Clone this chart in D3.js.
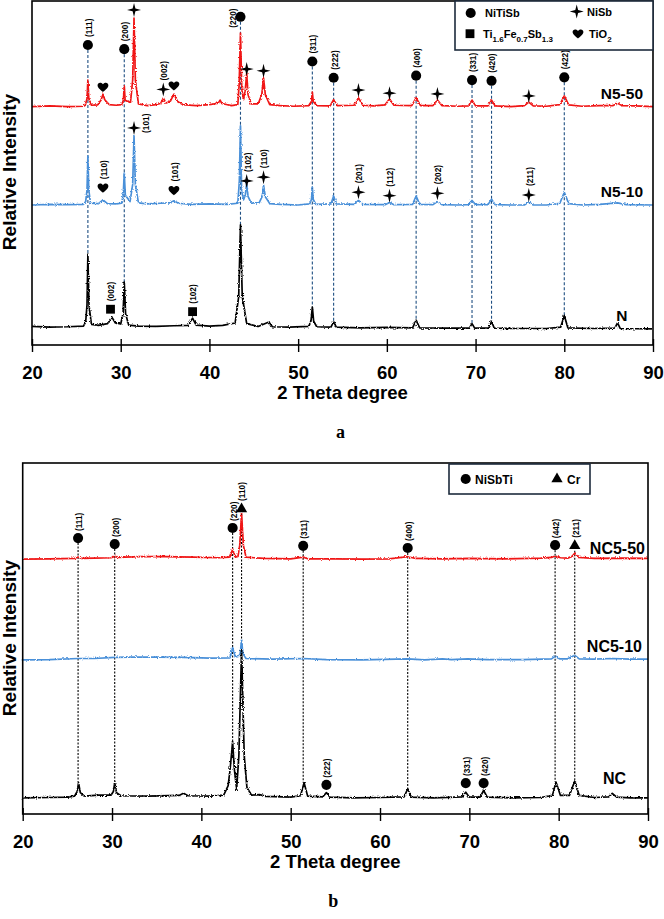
<!DOCTYPE html>
<html>
<head>
<meta charset="utf-8">
<script src="https://cdn.jsdelivr.net/npm/d3@7"></script>
<style>
  body { margin: 0; background: #fff; }
  svg { display: block; }
  text { font-family: "Liberation Sans", Arial, sans-serif; font-weight: bold; fill: #000; }
</style>
</head>
<body>
<svg id="chart" width="664" height="919"></svg>
<script>
const thetaTicks = [20, 30, 40, 50, 60, 70, 80, 90];

// panel a : [2theta, intensity above own baseline]
const n550 = [[20,0],[22,0.2],[24,0],[25.8,0.1],[26.0,0.4],[26.2,2.3],[26.3,7.7],[26.4,2.3],[26.7,0.4],
  [27.4,0.5],[27.8,2.0],[28.0,3.6],[28.2,2.0],[28.7,0.6],[29.5,0.4],[30.1,0.6],[30.3,1.8],[30.4,6.0],[30.5,1.8],
  [31.1,1.2],[31.35,7.7],[31.5,25.7],[31.65,7.7],[32.0,0.8],[33.0,0.3],[34.0,0.6],[34.5,0.9],[34.8,2.5],[35.1,1.0],
  [35.6,1.6],[36.0,3.6],[36.4,1.5],[37.0,0.6],[38.5,0.3],[40.0,0.6],[41.0,1.0],[41.2,1.9],[41.4,0.9],[42.5,0.3],
  [43.2,0.6],[43.35,6.4],[43.5,21.4],[43.65,5.0],[43.85,2.0],[44.05,5.0],[44.2,9.7],[44.35,3.5],[44.7,0.8],
  [45.5,0.8],[45.9,3.5],[46.1,8.3],[46.3,3.5],[46.8,0.6],[48,0.3],[49.5,0.1],[51.2,0.3],[51.5,1.5],[51.6,4.2],
  [51.7,1.5],[52.1,0.3],[53.6,0.2],[54.0,2.0],[54.4,0.3],[56.3,0.4],[56.8,2.5],[57.3,0.4],[58.5,0.2],[59.8,0.5],
  [60.3,2.2],[60.8,0.4],[62.8,0.3],[63.3,2.5],[63.8,0.3],[65.2,0.3],[65.7,1.9],[66.2,0.3],[68,0.1],[69.2,0.2],
  [69.6,1.9],[70.0,0.2],[71.4,0.2],[71.8,1.9],[72.2,0.2],[74,0],[75.5,0.3],[76.0,1.3],[76.5,0.2],[78,0.1],
  [79.5,0.6],[80.0,3.1],[80.5,0.5],[82,0.1],[84,0.3],[85.5,0.3],[86.0,1.0],[86.5,0.3],[88,0.2],[90,0]];

const n510 = [[20,0],[22,0.2],[24,0.1],[25.8,0.2],[26.05,1.0],[26.2,4.3],[26.3,14.2],[26.4,4.3],[26.6,0.5],
  [27.5,0.4],[28.0,1.5],[28.5,0.4],[29.5,0.3],[30.1,0.5],[30.28,2.8],[30.4,9.3],[30.52,2.8],[31.05,1.0],
  [31.35,6.0],[31.5,20.1],[31.65,6.0],[32.0,0.6],[33,0.3],[34.5,0.5],[35.5,0.6],[36.0,1.2],[36.5,0.5],[38,0.2],
  [40,0.3],[42,0.2],[43.2,0.5],[43.37,6.9],[43.5,23.0],[43.63,4.0],[43.85,1.5],[44.05,3.0],[44.2,6.4],[44.35,2.5],
  [44.7,0.6],[45.6,0.6],[45.95,2.5],[46.1,5.8],[46.3,2.4],[46.8,0.4],[48,0.2],[50,0],[51.3,0.3],[51.5,1.6],
  [51.6,5.2],[51.7,1.6],[52,0.2],[53.7,0.3],[54.0,2.6],[54.3,0.3],[56.3,0.2],[56.8,1.3],[57.3,0.2],[59.8,0.1],
  [60.3,0.7],[60.8,0.1],[62.9,0.2],[63.3,2.6],[63.7,0.2],[65.2,0.1],[65.7,1.0],[66.2,0.1],[68,0],[69.2,0.1],
  [69.6,1.3],[70,0.1],[71.4,0.1],[71.8,1.7],[72.2,0.1],[74,0],[75.5,0],[76.0,0.9],[76.5,0],[78,0],[79.5,0.5],
  [80.0,3.7],[80.5,0.4],[82,0],[84,0.2],[86,0.6],[87,0.1],[90,0]];

const n0 = [[20,0.2],[22,0],[24,0.1],[25.8,0.3],[26.05,1.5],[26.2,6.4],[26.3,21.2],[26.42,6.4],[26.7,0.8],
  [27.5,0.5],[28.5,1.0],[29.0,2.9],[29.4,1.2],[30.0,0.9],[30.27,4.0],[30.4,13.1],[30.55,3.9],[30.9,0.6],
  [32,0.3],[34,0.2],[36,0.4],[37.6,0.5],[38.1,2.6],[38.5,0.6],[40,0.3],[41.5,0.5],[42.9,1.2],[43.3,8.9],
  [43.5,29.7],[43.7,8.9],[44.2,1.0],[45.5,0.2],[46.7,1.5],[47.1,0.1],[49,0],[51.2,0.2],[51.45,1.8],[51.6,5.8],
  [51.75,1.7],[52.1,0.1],[53.7,0],[54.0,1.6],[54.3,0],[57,-0.2],[60,-0.1],[62.9,-0.2],[63.3,2.0],[63.7,-0.2],
  [66,-0.3],[69.3,-0.3],[69.6,1.0],[69.9,-0.3],[71.5,-0.3],[71.8,1.7],[72.1,-0.3],[75,-0.4],[78,-0.4],[79.6,0],
  [80.0,3.4],[80.4,-0.2],[83,-0.4],[85.7,-0.3],[86.0,1.2],[86.3,-0.4],[90,-0.5]];

// panel b
const nc550 = [[20,0],[23,0.1],[25.8,0.2],[26.2,0.6],[26.6,0.2],[28,0.3],[29.9,0.4],[30.3,0.8],[30.7,0.5],
  [33,0.7],[36,0.7],[39,0.6],[42,0.4],[43.2,0.6],[43.5,2.8],[43.8,0.6],[44.1,0.8],[44.3,4.0],[44.5,13.1],
  [44.7,4.0],[45.0,0.6],[47,0.2],[50,0.1],[51.4,0.6],[52,0.1],[55,0.1],[58,0],[61,0.1],[63.1,0.7],[64,0.2],
  [67,0.1],[70,0.2],[74,0.1],[78,0.3],[79.2,0.5],[79.6,0.9],[80.2,0.4],[81.0,0.3],[81.5,0.8],[81.8,1.7],
  [82.2,0.5],[84,0.2],[87,0.3],[90,0.2]];

const nc510 = [[20,0],[23,0.1],[26.2,0.4],[28,0.4],[30.3,0.7],[32,0.8],[35,0.8],[38,0.7],[41,0.5],[43.2,0.6],
  [43.5,3.5],[43.8,0.8],[44.15,1.0],[44.35,1.8],[44.5,5.7],[44.65,1.8],[45,0.4],[48,0.2],[51.4,0.4],[54,0.1],
  [58,0],[63.1,0.3],[65,0],[67,0.3],[68,0.1],[69.8,0.3],[72,0.1],[76,0.1],[79.2,0.3],[79.6,1.0],[80.1,0.3],
  [81.0,0.3],[81.8,1.3],[82.3,0.3],[84,0.2],[86,0.4],[88,0.2],[90,0.2]];

const nc0 = [[20,0],[23,0.1],[25,0.2],[25.8,0.5],[26.1,1.8],[26.25,4.3],[26.45,1.5],[26.9,0.5],[28.5,0.8],
  [29.9,0.8],[30.15,1.8],[30.3,4.3],[30.5,1.5],[31,0.6],[34,0.5],[37.5,0.7],[38.0,1.3],[38.5,0.6],[41,0.5],
  [42.5,0.8],[43.0,3.5],[43.25,9],[43.5,16],[43.7,8],[43.95,2.5],[44.2,12],[44.5,42.2],[44.8,12],[45.1,3],
  [45.6,0.8],[46.5,0.9],[47.3,0.4],[50,0.2],[51.1,0.6],[51.5,4.3],[51.9,0.5],[53.6,0.3],[54.0,1.5],[54.4,0.2],
  [57,0],[60,0.1],[62.7,0.3],[63.1,2.6],[63.5,0.2],[66,0],[69.2,0.3],[69.6,1.6],[70,0.2],[71.2,0.2],[71.6,2.1],
  [72,0.2],[75,0],[78,0.1],[79.3,0.7],[79.7,4.5],[80.2,0.7],[81.2,0.7],[81.8,4.8],[82.3,0.7],[84,0.1],[85.6,0.3],
  [86.0,1.3],[86.5,0.2],[88,0],[90,0]];

// phase markers : [2theta, level, hkl, placement]
const aCircles = [[26.3,87.2,"(111)"],[30.4,86.0,"(200)"],[43.5,95.4,"(220)","left"],[51.6,82.4,"(311)"],
  [54.0,77.7,"(222)"],[63.3,78.3,"(400)"],[69.6,77.0,"(331)"],[71.8,76.8,"(420)"],[80.0,77.8,"(422)"]];
const aStars = [[31.5,97.4,""],[34.8,74.3,"(002)"],[44.2,80.2,""],[46.1,79.7,""],[56.8,74.1,""],[60.3,73.2,""],
  [65.7,73.0,""],[76.0,72.4,""],[31.5,63.1,"(101)","right"],[44.2,47.7,"(102)"],[46.1,48.8,"(110)"],
  [56.8,44.4,"(201)"],[60.3,43.4,"(112)"],[65.7,44.1,"(202)"],[76.0,43.6,"(211)"]];
const aHearts = [[28.0,74.9,""],[36.0,75.3,""],[28.0,45.6,"(110)"],[36.0,44.9,"(101)"]];
const aSquares = [[28.85,10.4,"(002)"],[38.1,9.7,"(102)"]];

const bCircles = [[26.2,78.6,"(111)"],[30.3,76.9,"(200)"],[43.5,81.5,"(220)"],[51.4,76.4,"(311)"],
  [63.1,75.8,"(400)"],[79.6,76.6,"(442)"],[54.0,8.3,"(222)"],[69.6,8.8,"(331)"],[71.6,8.8,"(420)"]];
const bTriangles = [[44.5,86.9,"(110)"],[81.8,76.4,"(211)"]];

const svg = d3.select("#chart");

// roughen the traces so they look like noisy counts
const defs = svg.append("defs");
const flt = defs.append("filter").attr("id", "noisy")
  .attr("filterUnits", "userSpaceOnUse")
  .attr("x", 0).attr("y", 0).attr("width", 664).attr("height", 919);
flt.append("feTurbulence").attr("type", "fractalNoise")
  .attr("baseFrequency", 0.85).attr("numOctaves", 1).attr("seed", 4).attr("result", "t");
flt.append("feDisplacementMap").attr("in", "SourceGraphic").attr("in2", "t")
  .attr("scale", 3.2).attr("xChannelSelector", "R").attr("yChannelSelector", "G");

const starPath = s => `M0,${-s}L${s*0.2},${-s*0.2}L${s},0L${s*0.2},${s*0.2}L0,${s}L${-s*0.2},${s*0.2}L${-s},0L${-s*0.2},${-s*0.2}Z`;
const heartPath = "M0,4.6C-1,3.6 -5.4,0.6 -5.4,-1.9C-5.4,-4.6 -2.3,-5.6 0,-3C2.3,-5.6 5.4,-4.6 5.4,-1.9C5.4,0.6 1,3.6 0,4.6Z";
const circleSym = d3.symbol(d3.symbolCircle, 80)();
const squareSym = d3.symbol(d3.symbolSquare, 78)();
const triSym = d3.symbol(d3.symbolTriangle, 55)();

function drawPanel(cfg) {
  const x = d3.scaleLinear().domain([20, 90]).range([cfg.x0, cfg.x1]);
  const y = d3.scaleLinear().domain([0, 100]).range([cfg.yAxis, cfg.yTop]);
  const g = svg.append("g");

  // drop lines from marker to the bottom pattern
  const base = cfg.series[cfg.series.length - 1];
  const apex = pos => d3.max(base.data.filter(d => Math.abs(d[0] - pos) <= 0.2), d => d[1]) + base.offset;
  g.append("g").selectAll("line")
    .data(cfg.dropMarks)
    .join("line")
    .attr("x1", d => x(d[0])).attr("x2", d => x(d[0]))
    .attr("y1", d => y(d[1]) + 5).attr("y2", d => y(apex(d[0])))
    .attr("stroke", cfg.dropColor).attr("stroke-width", 1.1)
    .attr("stroke-dasharray", cfg.dropDash);

  const line = d3.line().x(d => x(d[0]));
  cfg.series.forEach(s => {
    g.append("path")
      .attr("d", line.y(d => y(d[1] + s.offset))(s.data))
      .attr("fill", "none")
      .attr("stroke", s.color)
      .attr("stroke-width", 1.7)
      .attr("stroke-linejoin", "round")
      .attr("filter", "url(#noisy)");
    g.append("text")
      .attr("x", s.labelAnchor === "end" ? cfg.x1 - s.labelPad : x(s.labelAt))
      .attr("y", y(s.offset) - s.labelGap)
      .attr("text-anchor", s.labelAnchor)
      .style("font-size", cfg.seriesFont + "px")
      .text(s.name);
  });

  // frame and axis
  g.append("rect")
    .attr("x", cfg.x0).attr("y", cfg.yTop)
    .attr("width", cfg.x1 - cfg.x0).attr("height", cfg.yAxis - cfg.yTop)
    .attr("fill", "none").attr("stroke", "#000").attr("stroke-width", 1.6);
  const ax = g.append("g")
    .attr("transform", `translate(0,${cfg.yAxis - 6})`)
    .call(d3.axisBottom(x).tickValues(thetaTicks).tickFormat(d3.format("d")).tickSize(13).tickPadding(14));
  ax.select(".domain").remove();
  ax.selectAll(".tick line").attr("stroke", "#000").attr("stroke-width", 1.4);
  ax.selectAll(".tick text").style("font-size", "18.5px").attr("fill", "#000")
    .style("font-family", '"Liberation Sans", Arial, sans-serif').style("font-weight", "bold");

  g.append("text")
    .attr("x", (cfg.x0 + cfg.x1) / 2).attr("y", cfg.yAxis + 54)
    .attr("text-anchor", "middle").style("font-size", "18.5px")
    .text("2 Theta degree");
  g.append("text")
    .attr("x", (cfg.x0 + cfg.x1) / 2 - 2).attr("y", cfg.yAxis + 93)
    .attr("text-anchor", "middle")
    .style("font-family", '"Liberation Serif", "Times New Roman", serif')
    .style("font-size", "18px")
    .text(cfg.letter);
  g.append("text")
    .attr("transform", `translate(16,${cfg.titleY}) rotate(-90)`)
    .attr("text-anchor", "middle").style("font-size", "19px")
    .text("Relative Intensity");

  // markers with hkl labels
  cfg.marks.forEach(m => {
    const mg = g.append("g");
    mg.selectAll("path")
      .data(m.data)
      .join("path")
      .attr("d", m.shape)
      .attr("transform", d => `translate(${x(d[0])},${y(d[1])})`)
      .attr("fill", "#000");
    mg.selectAll("text")
      .data(m.data.filter(d => d[2]))
      .join("text")
      .attr("transform", d => {
        let px = x(d[0]) + 1, py = y(d[1]) - m.gap;
        if (d[3] === "left") { px = x(d[0]) - 7; py = y(d[1]) + 11; }
        if (d[3] === "right") { px = x(d[0]) + 12; py = y(d[1]) + 5; }
        return `translate(${px},${py}) rotate(-90)`;
      })
      .attr("dy", "0.35em")
      .style("font-size", "8.3px")
      .text(d => d[2]);
  });

  return { x, y };
}

drawPanel({
  x0: 32, x1: 653, yTop: 1, yAxis: 345, titleY: 172, letter: "a", seriesFont: 15.5,
  dropColor: "#1f4f82", dropDash: "3,2",
  series: [
    { name: "N5-50", data: n550, color: "#f01414", offset: 69.3, labelAnchor: "end", labelPad: 10, labelGap: 8 },
    { name: "N5-10", data: n510, color: "#4a90d9", offset: 40.7, labelAnchor: "end", labelPad: 10, labelGap: 8 },
    { name: "N", data: n0, color: "#000", offset: 5.2, labelAnchor: "middle", labelAt: 86.5, labelGap: 6 }
  ],
  dropMarks: aCircles,
  marks: [
    { data: aCircles, shape: circleSym, gap: 8 },
    { data: aStars, shape: starPath(7), gap: 9 },
    { data: aHearts, shape: heartPath, gap: 9 },
    { data: aSquares, shape: squareSym, gap: 8 }
  ]
});

drawPanel({
  x0: 22.7, x1: 648, yTop: 463, yAxis: 814, titleY: 638, letter: "b", seriesFont: 16,
  dropColor: "#000", dropDash: "2,1.5",
  series: [
    { name: "NC5-50", data: nc550, color: "#f01414", offset: 72.6, labelAnchor: "end", labelPad: 3, labelGap: 5 },
    { name: "NC5-10", data: nc510, color: "#4a90d9", offset: 43.9, labelAnchor: "end", labelPad: 6, labelGap: 8 },
    { name: "NC", data: nc0, color: "#000", offset: 4.6, labelAnchor: "middle", labelAt: 86.25, labelGap: 14 }
  ],
  dropMarks: bCircles.filter(d => d[1] > 50).concat(bTriangles),
  marks: [
    { data: bCircles, shape: circleSym, gap: 7 },
    { data: bTriangles, shape: triSym, gap: 8 }
  ]
});

// legends
const legA = svg.append("g");
legA.append("rect").attr("x", 455).attr("y", 1).attr("width", 198).attr("height", 49)
  .attr("fill", "#fff").attr("stroke", "#1d2b3c").attr("stroke-width", 1.6);
legA.append("path").attr("d", circleSym).attr("transform", "translate(470.7,13)");
legA.append("text").attr("x", 485).attr("y", 17).style("font-size", "11px").text("NiTiSb");
legA.append("path").attr("d", starPath(7)).attr("transform", "translate(576.7,11.5)");
legA.append("text").attr("x", 587).attr("y", 15.5).style("font-size", "11px").text("NiSb");
legA.append("path").attr("d", squareSym).attr("transform", "translate(470,33.7)");
const tfs = legA.append("text").attr("x", 483).attr("y", 38).style("font-size", "11px");
[["Ti", 0], ["1.6", 1], ["Fe", 0], ["0.7", 1], ["Sb", 0], ["1.3", 1]].forEach((p, i, arr) => {
  const prev = i > 0 ? arr[i - 1][1] : 0;
  tfs.append("tspan").attr("dy", (p[1] - prev) * 3.5).style("font-size", p[1] ? "8px" : "11px").text(p[0]);
});
legA.append("path").attr("d", heartPath).attr("transform", "translate(578,34)");
const tio = legA.append("text").attr("x", 589).attr("y", 38).style("font-size", "11px");
tio.append("tspan").text("TiO");
tio.append("tspan").attr("dy", 3.5).style("font-size", "8px").text("2");

const legB = svg.append("g");
legB.append("rect").attr("x", 449).attr("y", 464).attr("width", 141).attr("height", 30)
  .attr("fill", "#fff").attr("stroke", "#1d2b3c").attr("stroke-width", 1.6);
legB.append("path").attr("d", circleSym).attr("transform", "translate(465.7,479)");
legB.append("text").attr("x", 475).attr("y", 483.5).style("font-size", "12px").text("NiSbTi");
legB.append("path").attr("d", triSym).attr("transform", "translate(557,479)");
legB.append("text").attr("x", 567).attr("y", 483.5).style("font-size", "12px").text("Cr");
</script>
</body>
</html>
